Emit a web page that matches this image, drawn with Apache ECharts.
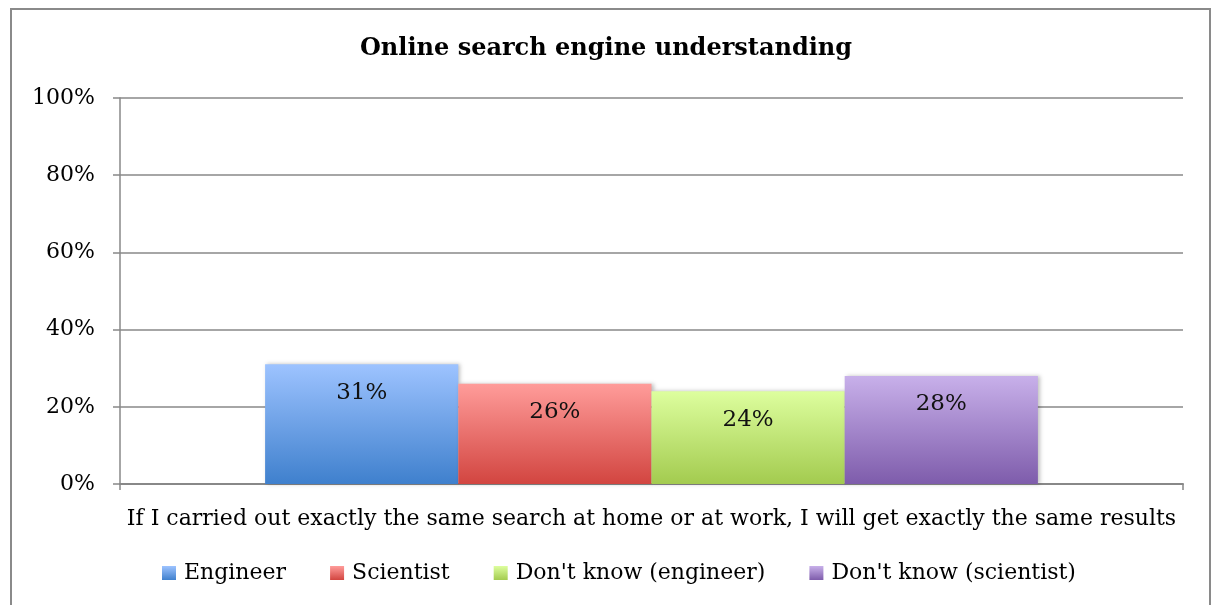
<!DOCTYPE html>
<html>
<head>
<meta charset="utf-8">
<script src="https://cdn.jsdelivr.net/npm/echarts@6/dist/echarts.min.js"></script>
<style>
  html, body { margin: 0; padding: 0; background: #fff; }
  #main { width: 1212px; height: 605px; }
</style>
</head>
<body>
<div id="main"></div>
<script>
// data
var categories = ['If I carried out exactly the same search at home or at work, I will get exactly the same results'];
var seriesNames = ['Engineer', 'Scientist', "Don't know (engineer)", "Don't know (scientist)"];
var engineer = [31];
var scientist = [26];
var dkEngineer = [24];
var dkScientist = [28];
var yTicks = [0, 20, 40, 60, 80, 100];

var font = '"DejaVu Serif", serif';

function grad(top, bottom) {
    return new echarts.graphic.LinearGradient(0, 0, 0, 1, [
        { offset: 0, color: top },
        { offset: 1, color: bottom }
    ]);
}

var colors = [
    grad('#9dc3ff', '#3f80cd'),
    grad('#ff9c9a', '#d24540'),
    grad('#ddfe9e', '#a3cb4f'),
    grad('#c8b0ea', '#7e5cab')
];

function makeSeries(name, data, color) {
    return {
        name: name,
        type: 'bar',
        data: data,
        barGap: '0%',
        barCategoryGap: '27.3%',
        itemStyle: {
            color: color,
            shadowColor: 'rgba(0,0,0,0.25)',
            shadowBlur: 4,
            shadowOffsetX: 2
        },
        label: {
            show: true,
            position: 'insideTop',
            distance: 17,
            formatter: '{c}%',
            color: '#111',
            fontFamily: font,
            fontSize: 23
        }
    };
}

var myChart = echarts.init(document.getElementById('main'));
var option = {
    animation: false,
    backgroundColor: '#fff',
    title: {
        text: 'Online search engine understanding',
        left: 'center',
        top: 32,
        textStyle: { fontFamily: font, fontWeight: 'bold', fontSize: 24, color: '#000' }
    },
    graphic: [{
        type: 'rect',
        shape: { x: 11, y: 9, width: 1199, height: 610 },
        style: { fill: 'none', stroke: '#8a8a8a', lineWidth: 2 },
        silent: true
    }],
    legend: {
        bottom: 16,
        left: 157,
        icon: 'rect',
        itemWidth: 14,
        itemHeight: 14,
        itemGap: 44,
        data: seriesNames,
        textStyle: { fontFamily: font, fontSize: 22, color: '#000', padding: [0, 0, 0, 3] }
    },
    grid: { left: 120, right: 29, top: 98, bottom: 121, containLabel: false },
    xAxis: {
        type: 'category',
        data: categories,
        axisLine: { lineStyle: { color: '#888', width: 2 } },
        axisTick: { show: true, length: 6, lineStyle: { color: '#888', width: 1.5 } },
        axisLabel: { margin: 24, fontFamily: font, fontSize: 22, color: '#000' }
    },
    yAxis: {
        type: 'value',
        min: yTicks[0],
        max: yTicks[yTicks.length - 1],
        interval: 20,
        axisLine: { show: true, lineStyle: { color: '#888', width: 1.5 } },
        axisTick: { show: true, length: 7, lineStyle: { color: '#888', width: 1.5 } },
        splitLine: { lineStyle: { color: '#888', width: 1.5 } },
        axisLabel: { margin: 25, formatter: '{value}%', fontFamily: font, fontSize: 22, color: '#000' }
    },
    series: [
        makeSeries(seriesNames[0], engineer, colors[0]),
        makeSeries(seriesNames[1], scientist, colors[1]),
        makeSeries(seriesNames[2], dkEngineer, colors[2]),
        makeSeries(seriesNames[3], dkScientist, colors[3])
    ]
};
myChart.setOption(option, true);
</script>
</body>
</html>
